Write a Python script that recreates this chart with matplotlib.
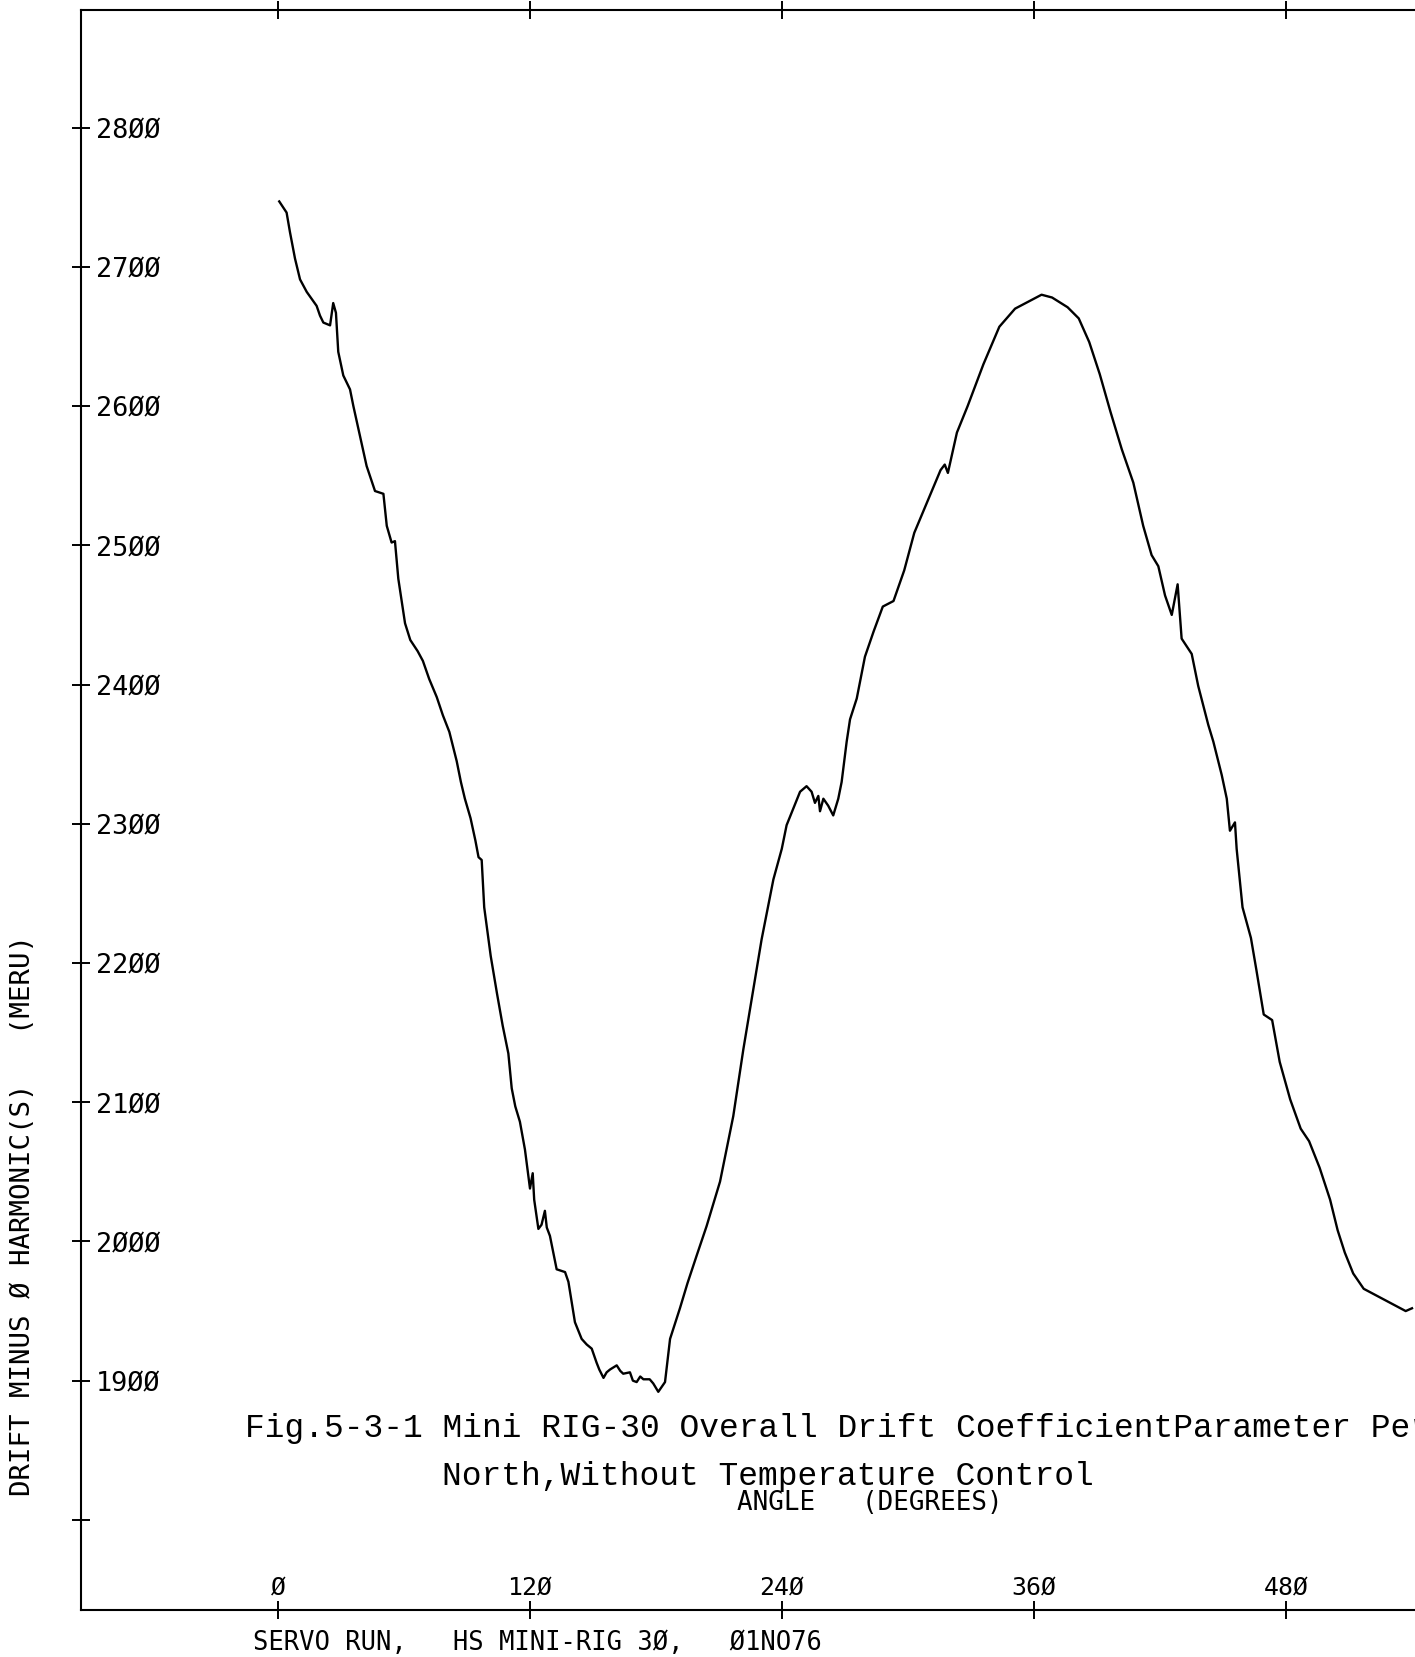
import matplotlib
matplotlib.use("Agg")
import matplotlib.pyplot as plt
from matplotlib.transforms import offset_copy

# ---------------- data ----------------
angle = [0.6, 4.1, 5.7, 8.1, 10.5, 13.7, 18.4, 20.0, 21.6, 24.8, 26.3, 27.6, 28.7,
         31.1, 34.3, 35.9, 39.0, 42.2, 46.2, 50.2, 51.8, 54.1, 55.7, 57.3, 60.5,
         63.0, 66.5, 69.0, 72.0, 75.6, 78.5, 81.6, 85.1, 87.1, 89.0, 91.7, 94.0,
         95.5, 97.0, 98.2, 101.3, 104.3, 107.0, 109.7, 111.3, 113.0, 115.2, 117.6,
         119.0, 120.0, 121.3, 122.0, 124.0, 125.5, 127.1, 128.0, 129.5, 132.7,
         136.7, 138.3, 141.4, 144.6, 147.0, 149.4, 151.7, 153.0, 155.0, 156.5,
         158.1, 161.3, 163.0, 164.4, 167.6, 169.0, 170.8, 172.5, 174.0, 177.0,
         178.7, 181.1, 184.3, 186.7, 191.4, 195.0, 199.4, 204.1, 210.5, 216.8,
         221.6, 224.8, 230.3, 235.9, 239.9, 242.2, 245.4, 248.6, 251.7, 254.1,
         255.7, 257.3, 258.1, 259.7, 262.0, 264.4, 266.8, 268.4, 270.8, 272.4,
         275.6, 279.5, 283.6, 288.0, 293.1, 298.2, 303.0, 310.5, 315.5, 317.5,
         319.0, 323.3, 328.4, 335.9, 343.5, 351.0, 358.6, 363.6, 368.6, 376.0,
         381.3, 386.3, 391.3, 396.4, 401.8, 407.3, 412.0, 416.0, 419.2, 422.4,
         425.6, 428.4, 430.3, 435.1, 438.2, 443.0, 445.4, 449.4, 451.8, 453.3,
         455.7, 456.5, 459.3, 463.3, 465.9, 469.4, 473.4, 477.0, 482.0, 487.0,
         491.0, 496.0, 501.0, 504.6, 508.0, 512.0, 517.0, 522.0, 527.0, 532.0,
         537.0, 540.0]
drift = [2747, 2739, 2725, 2706, 2691, 2682, 2672, 2665, 2660, 2658, 2674, 2667, 2639,
         2622, 2612, 2600, 2579, 2557, 2539, 2537, 2514, 2502, 2503, 2476, 2444,
         2432, 2424, 2417, 2404, 2391, 2378, 2366, 2345, 2330, 2318, 2304, 2288,
         2276, 2274, 2240, 2205, 2178, 2155, 2135, 2110, 2097, 2086, 2066,
         2050, 2038, 2049, 2030, 2009, 2012, 2022, 2010, 2004, 1980,
         1978, 1971, 1942, 1930, 1926, 1923, 1913, 1908, 1902, 1906,
         1908, 1911, 1907, 1905, 1906, 1900, 1899, 1903, 1901, 1901,
         1898, 1892, 1899, 1930, 1952, 1970, 1990, 2011, 2043, 2090,
         2138, 2167, 2217, 2260, 2282, 2299, 2311, 2323, 2327, 2323,
         2315, 2320, 2309, 2318, 2313, 2306, 2318, 2330, 2359, 2375,
         2390, 2420, 2438, 2456, 2460, 2482, 2509, 2536, 2554, 2558,
         2552, 2581, 2600, 2630, 2657, 2670, 2676, 2680, 2678, 2671,
         2663, 2646, 2623, 2596, 2569, 2545, 2514, 2493, 2485, 2464,
         2450, 2472, 2433, 2422, 2399, 2371, 2359, 2335, 2318, 2295,
         2301, 2282, 2240, 2218, 2195, 2163, 2159, 2129, 2102, 2081,
         2072, 2053, 2030, 2008, 1992, 1977, 1966, 1962, 1958, 1954,
         1950, 1952]

x_ticks = [0, 120, 240, 360, 480]
y_ticks = [1800, 1900, 2000, 2100, 2200, 2300, 2400, 2500, 2600, 2700, 2800]
y_labelled = [1900, 2000, 2100, 2200, 2300, 2400, 2500, 2600, 2700, 2800]

y_title = "DRIFT MINUS Ø HARMONIC(S)   (MERU)"
x_title = "ANGLE   (DEGREES)"
footer = "SERVO RUN,   HS MINI-RIG 3Ø,   Ø1NO76"
caption1 = "Fig.5-3-1 Mini RIG-30 Overall Drift CoefficientParameter Per"
caption2 = "North,Without Temperature Control"

# ---------------- layout ----------------
W, H = 1415, 1658
fig = plt.figure(figsize=(W / 100, H / 100), dpi=100)
fig.patch.set_facecolor("white")


def fx(px):
    return px / W


def fy(py):
    return 1 - py / H


ax_l, ax_r, ax_t, ax_b = 81, 1454, 11, 1610.7
ax = fig.add_axes([fx(ax_l), fy(ax_b), (ax_r - ax_l) / W, (ax_b - ax_t) / H])
ax.set_xlim(-93.8, 560)
ax.set_ylim(1735.5, 2884.5)

for s in ("left", "top", "bottom"):
    ax.spines[s].set_linewidth(1.5)
    ax.spines[s].set_color("black")
ax.spines["right"].set_visible(False)

ax.set_xticks(x_ticks)
ax.set_yticks(y_ticks)
ax.tick_params(axis="x", direction="inout", length=13, width=1.4,
               top=True, bottom=True, labelbottom=False, labeltop=False)
ax.tick_params(axis="y", direction="inout", length=12.5, width=1.4,
               left=True, right=False, labelleft=False)

ax.plot(angle, drift, color="black", lw=1.7, solid_joinstyle="round")

mono = ["DejaVu Sans Mono", "DejaVu Sans"]


def zslash(v):
    return str(v).replace("0", "Ø")


# y tick labels inside the axes, right of the ticks
ysize = 19.4
ytr = offset_copy(ax.get_yaxis_transform(), fig=fig, x=0, y=-0.729 * ysize / 2,
                  units="points")
for v in y_labelled:
    ax.text((96 - ax_l) / (ax_r - ax_l), v, zslash(v), transform=ytr,
            family=mono, fontsize=ysize, ha="left", va="baseline")

# x tick labels inside the axes, above the bottom spine
xtr = ax.get_xaxis_transform()
for v in x_ticks:
    ax.text(v, (ax_b - 1595) / (ax_b - ax_t), zslash(v), transform=xtr,
            family=mono, fontsize=17.9, ha="center", va="baseline")

# axis titles
fig.text(fx(737), fy(1510), x_title, family=mono, fontsize=18.6,
         ha="left", va="baseline")
fig.text(fx(23), fy(1216), y_title, family=mono, fontsize=19.7,
         rotation=90, ha="center", va="center")
fig.text(fx(253), fy(1650), footer, family=mono, fontsize=18.4,
         ha="left", va="baseline")

# caption
cap_font = ["Liberation Mono", "DejaVu Sans Mono"]
fig.text(fx(245), fy(1437), caption1, family=cap_font, fontsize=23.7,
         ha="left", va="baseline")
fig.text(fx(442), fy(1485), caption2, family=cap_font, fontsize=23.7,
         ha="left", va="baseline")

fig.savefig("out.png", dpi=100, facecolor="white")
